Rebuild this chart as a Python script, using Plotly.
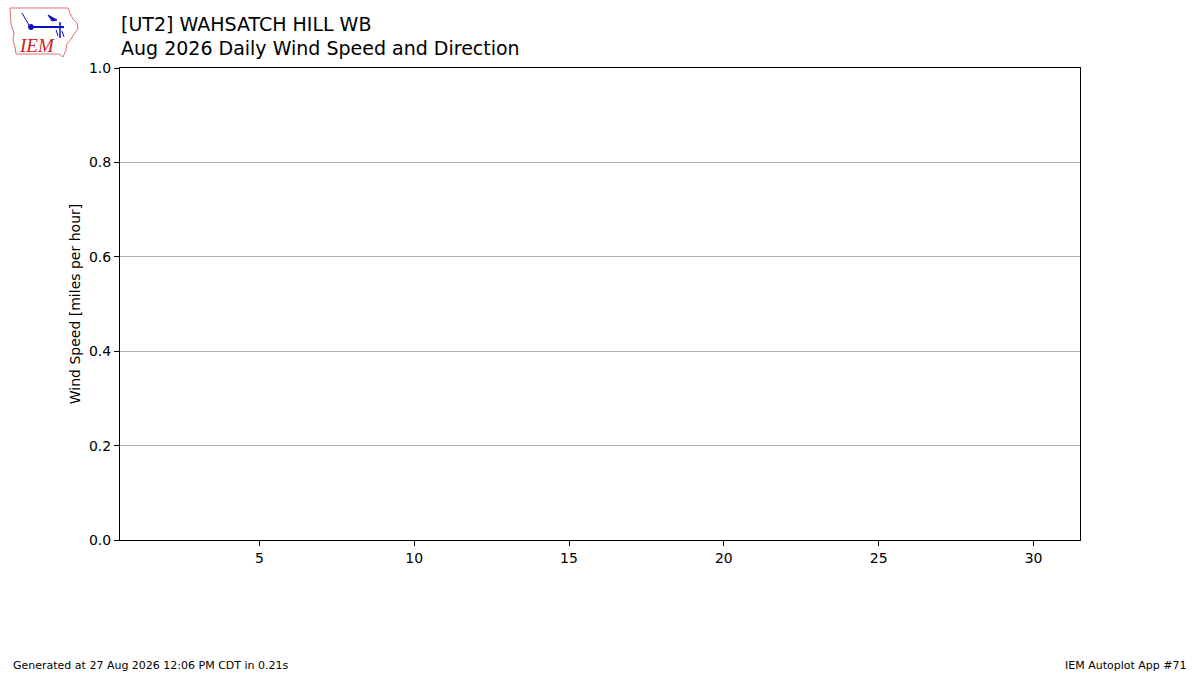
import plotly.graph_objects as go

# -----------------------------
# Data (no observations for the month)
# -----------------------------
DAYS = []
AVG_SPEED = []
X_TICKS = [5, 10, 15, 20, 25, 30]
Y_TICKS = [0.0, 0.2, 0.4, 0.6, 0.8, 1.0]
X_RANGE = [0.5, 31.5]
Y_RANGE = [0.0, 1.0]

TITLE_1 = "[UT2] WAHSATCH HILL WB"
TITLE_2 = "Aug 2026 Daily Wind Speed and Direction"
Y_LABEL = "Wind Speed [miles per hour]"
FOOT_LEFT = "Generated at 27 Aug 2026 12:06 PM CDT in 0.21s"
FOOT_RIGHT = "IEM Autoplot App #71"

W, H = 1200, 675
L, R, T, B = 120, 1080, 68, 540
FONT = "DejaVu Sans"


def px(x, y):
    # pixel position -> paper coords
    return (x - L) / (R - L), (B - y) / (B - T)


def path(points, close=True):
    parts = []
    for i, (x, y) in enumerate(points):
        a, b = px(x, y)
        parts.append(("M" if i == 0 else "L") + f"{a:.5f},{b:.5f}")
    return " ".join(parts) + (" Z" if close else "")


fig = go.Figure()
fig.add_trace(go.Scatter(x=DAYS, y=AVG_SPEED, mode="lines+markers",
                         line=dict(color="#1f77b4"), showlegend=False))

# -----------------------------
# IEM logo (rough)
# -----------------------------
iowa = [(10, 8), (68, 8), (70, 13), (73, 19), (77, 23), (78, 29), (74, 34),
        (71, 39), (67, 44), (66, 50), (63, 57), (59, 54), (16, 54), (15, 47),
        (13, 40), (14, 33), (11, 24), (10, 8)]
shapes = [
    dict(type="path", xref="paper", yref="paper", path=path(iowa),
         line=dict(color="#e07070", width=1), fillcolor="white"),
    dict(type="path", xref="paper", yref="paper",
         path=path([(30, 27), (64, 27)], close=False),
         line=dict(color="#1010c0", width=2)),
    dict(type="path", xref="paper", yref="paper",
         path=path([(60, 22), (60, 38)], close=False),
         line=dict(color="#1010c0", width=1.5)),
    dict(type="path", xref="paper", yref="paper",
         path=path([(22, 13), (30, 27)], close=False),
         line=dict(color="#1010c0", width=1)),
    dict(type="path", xref="paper", yref="paper",
         path=path([(48, 15), (57, 20), (52, 21)]),
         line=dict(color="#1010c0", width=1), fillcolor="#1010c0"),
    dict(type="path", xref="paper", yref="paper",
         path=path([(56, 30), (58, 36)], close=False),
         line=dict(color="#1010c0", width=1)),
    dict(type="path", xref="paper", yref="paper",
         path=path([(62, 31), (64, 37)], close=False),
         line=dict(color="#1010c0", width=1)),
]
a, b = px(31, 27)
a2, b2 = px(33.5, 29.5)
shapes.append(dict(type="circle", xref="paper", yref="paper",
                   x0=2 * a - a2, x1=a2, y0=b2, y1=2 * b - b2,
                   line=dict(color="#1010c0", width=1), fillcolor="#1010c0"))

annotations = []
ax, ay = px(37, 45)
annotations.append(dict(text="IEM", xref="paper", yref="paper", x=ax, y=ay,
                        showarrow=False, xanchor="center", yanchor="middle",
                        font=dict(family="Liberation Serif", size=19,
                                  color="#d02020", style="italic")))

# -----------------------------
# Titles and footers
# -----------------------------
tx, ty = px(119, 24)
annotations.append(dict(text=TITLE_1, xref="paper", yref="paper", x=tx, y=ty,
                        showarrow=False, xanchor="left", yanchor="middle",
                        font=dict(family=FONT, size=19, color="black")))
tx, ty = px(119, 48)
annotations.append(dict(text=TITLE_2, xref="paper", yref="paper", x=tx, y=ty,
                        showarrow=False, xanchor="left", yanchor="middle",
                        font=dict(family=FONT, size=19, color="black")))
fx, fy = px(11, 665)
annotations.append(dict(text=FOOT_LEFT, xref="paper", yref="paper", x=fx, y=fy,
                        showarrow=False, xanchor="left", yanchor="middle",
                        font=dict(family=FONT, size=11, color="black")))
fx, fy = px(1189, 665)
annotations.append(dict(text=FOOT_RIGHT, xref="paper", yref="paper", x=fx, y=fy,
                        showarrow=False, xanchor="right", yanchor="middle",
                        font=dict(family=FONT, size=11, color="black")))

fig.update_layout(
    width=W, height=H,
    margin=dict(l=L, r=W - R, t=T, b=H - B, pad=0),
    plot_bgcolor="white",
    paper_bgcolor="white",
    font=dict(family=FONT, size=14, color="black"),
    showlegend=False,
    shapes=shapes,
    annotations=annotations,
    xaxis=dict(range=X_RANGE, tickvals=X_TICKS, showgrid=False, zeroline=False,
               showline=True, mirror=True, linecolor="black", linewidth=1,
               ticks="outside", ticklen=5, tickcolor="black",
               tickfont=dict(size=14)),
    yaxis=dict(range=Y_RANGE, tickvals=Y_TICKS, tickformat=".1f",
               showgrid=True, gridcolor="#b0b0b0", gridwidth=1, zeroline=False,
               showline=True, mirror=True, linecolor="black", linewidth=1,
               ticks="outside", ticklen=5, tickcolor="black",
               tickfont=dict(size=14),
               title=dict(text=Y_LABEL, font=dict(size=14), standoff=5)),
)

fig.write_html("out.html", config={"displayModeBar": False},
               post_script="document.body.style.margin='0';")
